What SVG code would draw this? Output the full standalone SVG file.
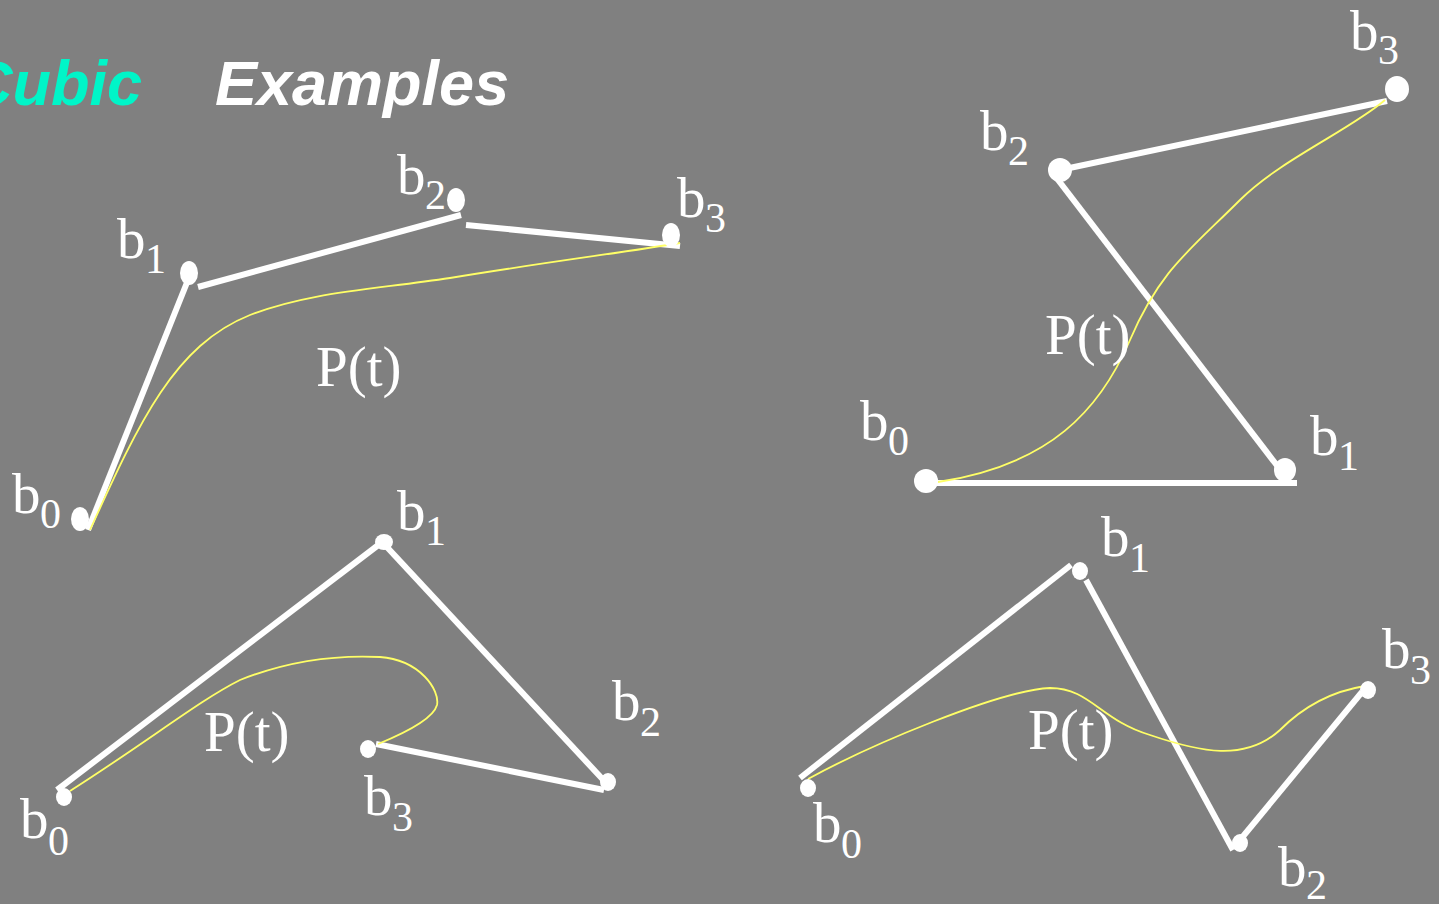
<svg xmlns="http://www.w3.org/2000/svg" width="1439" height="904" viewBox="0 0 1439 904">
<style>
.lbl{font-family:"Liberation Serif","Times New Roman",serif;font-size:57px;fill:#ffffff}
.sub{font-family:"Liberation Serif","Times New Roman",serif;font-size:42px;fill:#ffffff}
.poly{stroke:#ffffff;stroke-width:6;fill:none;stroke-linecap:butt}
.curve{stroke:#ffff66;stroke-width:1.8;fill:none}
.dot{fill:#ffffff}
.title{font-family:"Liberation Sans",Arial,sans-serif;font-size:63px;font-weight:bold;font-style:italic}
</style>
<rect width="1439" height="904" fill="#808080"/>
<g id="title">
<text class="title" x="-33" y="105" fill="#00f5c8">Cubic</text>
<text class="title" x="215" y="105" fill="#ffffff">Examples</text>
</g>
<g id="example1">
<g id="connectors1">
<path class="poly" d="M88,530 L188,280"/>
<path class="poly" d="M198,287 L461,215"/>
<path class="poly" d="M466,225 L680,246"/>
<path class="curve" d="M90,530 C140,420 175,345 250,315 C310,292 370,290 450,278 C540,263 620,253 680,243"/>
</g>
<ellipse class="dot" cx="80" cy="519" rx="9" ry="12"/>
<ellipse class="dot" cx="189" cy="273" rx="9" ry="12"/>
<ellipse class="dot" cx="456" cy="200" rx="9" ry="12"/>
<ellipse class="dot" cx="671" cy="235" rx="9" ry="12"/>
<text class="lbl" x="12" y="513">b</text><text class="sub" x="40" y="528">0</text>
<text class="lbl" x="117" y="258">b</text><text class="sub" x="145" y="273">1</text>
<text class="lbl" x="397" y="194">b</text><text class="sub" x="425" y="209">2</text>
<text class="lbl" x="677" y="217">b</text><text class="sub" x="705" y="232">3</text>
<text class="lbl" x="316" y="386">P(t)</text>
</g>
<g id="example2">
<g id="connectors2">
<path class="poly" d="M936,483 L1297,483"/>
<path class="poly" d="M1052,172 L1285,476"/>
<path class="poly" d="M1060,170 L1387,101"/>
<path class="curve" d="M938,482 C1050,465 1100,410 1130,340 C1160,270 1190,250 1240,200 C1280,160 1350,130 1385,100"/>
</g>
<ellipse class="dot" cx="926" cy="481" rx="12" ry="12"/>
<ellipse class="dot" cx="1285" cy="470" rx="11" ry="12"/>
<ellipse class="dot" cx="1060" cy="170" rx="12" ry="12"/>
<ellipse class="dot" cx="1397" cy="89" rx="12" ry="13"/>
<text class="lbl" x="860" y="440">b</text><text class="sub" x="888" y="455">0</text>
<text class="lbl" x="1310" y="455">b</text><text class="sub" x="1338" y="470">1</text>
<text class="lbl" x="980" y="150">b</text><text class="sub" x="1008" y="165">2</text>
<text class="lbl" x="1350" y="50">b</text><text class="sub" x="1378" y="64">3</text>
<text class="lbl" x="1045" y="354">P(t)</text>
</g>
<g id="example3">
<g id="connectors3">
<path class="poly" d="M57,790 L381,543"/>
<path class="poly" d="M385,545 L608,785"/>
<path class="poly" d="M376,744 L604,790"/>
<path class="curve" d="M70,791 C150,740 200,700 240,680 C290,660 340,655 380,657 C420,660 440,690 437,705 C433,720 400,735 378,744"/>
</g>
<ellipse class="dot" cx="64" cy="797" rx="8" ry="9"/>
<ellipse class="dot" cx="384" cy="542" rx="9" ry="8"/>
<ellipse class="dot" cx="608" cy="782" rx="8" ry="9"/>
<ellipse class="dot" cx="368" cy="749" rx="8" ry="9"/>
<text class="lbl" x="20" y="838">b</text><text class="sub" x="48" y="855">0</text>
<text class="lbl" x="397" y="530">b</text><text class="sub" x="425" y="545">1</text>
<text class="lbl" x="612" y="720">b</text><text class="sub" x="640" y="736">2</text>
<text class="lbl" x="364" y="815">b</text><text class="sub" x="392" y="831">3</text>
<text class="lbl" x="204" y="751">P(t)</text>
</g>
<g id="example4">
<g id="connectors4">
<path class="poly" d="M800,778 L1071,565"/>
<path class="poly" d="M1086,580 L1233,850"/>
<path class="poly" d="M1240,840 L1362,692"/>
<path class="curve" d="M808,779 C870,745 1000,690 1050,688 C1090,688 1100,720 1150,735 C1200,752 1245,762 1280,730 C1310,700 1340,690 1365,686"/>
</g>
<ellipse class="dot" cx="808" cy="788" rx="8" ry="9"/>
<ellipse class="dot" cx="1080" cy="571" rx="8" ry="9"/>
<ellipse class="dot" cx="1240" cy="843" rx="8" ry="9"/>
<ellipse class="dot" cx="1368" cy="690" rx="8" ry="9"/>
<text class="lbl" x="813" y="842">b</text><text class="sub" x="841" y="858">0</text>
<text class="lbl" x="1101" y="556">b</text><text class="sub" x="1129" y="572">1</text>
<text class="lbl" x="1278" y="886">b</text><text class="sub" x="1306" y="899">2</text>
<text class="lbl" x="1382" y="668">b</text><text class="sub" x="1410" y="684">3</text>
<text class="lbl" x="1028" y="749">P(t)</text>
</g>
</svg>
